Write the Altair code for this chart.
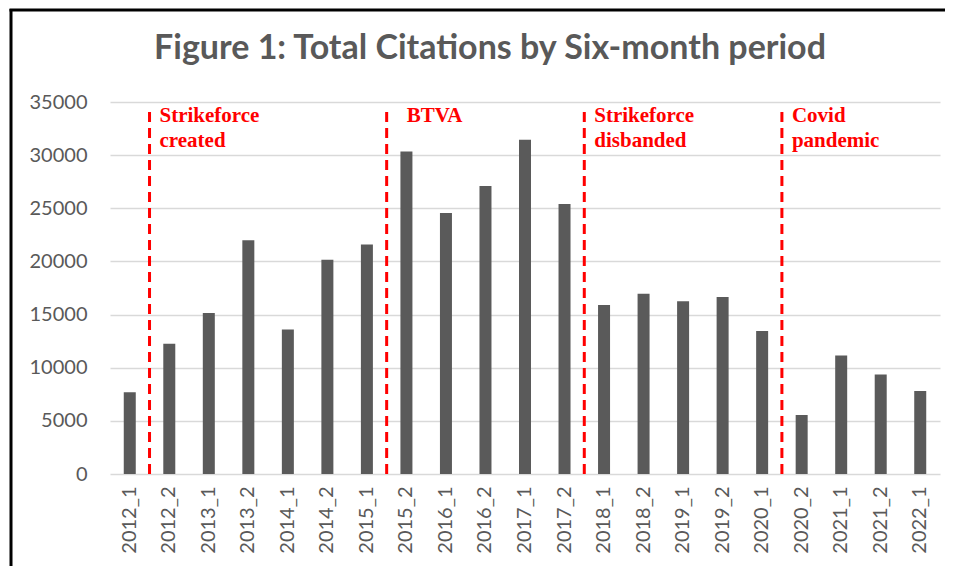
import altair as alt
import pandas as pd

periods = ["2012_1", "2012_2", "2013_1", "2013_2", "2014_1", "2014_2", "2015_1",
           "2015_2", "2016_1", "2016_2", "2017_1", "2017_2", "2018_1", "2018_2",
           "2019_1", "2019_2", "2020_1", "2020_2", "2021_1", "2021_2", "2022_1"]
citations = [7700, 12250, 15150, 22000, 13600, 20150, 21600,
             30350, 24550, 27100, 31450, 25400, 15900, 16950,
             16250, 16650, 13450, 5550, 11150, 9350, 7800]

event_periods = ["2012_2", "2018_1", "2020_2"]
event_labels = ["Strikeforce\ncreated", "Strikeforce\ndisbanded", "Covid\npandemic"]
btva_period = ["2015_2"]
btva_label = ["BTVA"]
rule_top = 34500
y_ticks = [0, 5000, 10000, 15000, 20000, 25000, 30000, 35000]

W, H = 830, 372

df = pd.DataFrame({"period": periods, "citations": citations})
ev = pd.DataFrame({"period": event_periods + btva_period,
                   "zero": [0] * 4,
                   "top": [rule_top] * 4})
ev_main = pd.DataFrame({"period": event_periods, "label": event_labels, "top": [35000] * 3})
ev_btva = pd.DataFrame({"period": btva_period, "label": btva_label, "top": [35000]})

xscale = alt.Scale(domain=periods, paddingInner=0, paddingOuter=0)
yscale = alt.Scale(domain=[0, 35000])

bars = alt.Chart(df).mark_bar(size=12, color="#5a5a5a").encode(
    x=alt.X("period:N", scale=xscale, sort=periods,
            axis=alt.Axis(title=None, labelAngle=270, labelFont="Lato", labelFontSize=20,
                          labelColor="#595959", ticks=False, domain=False, labelPadding=12)),
    y=alt.Y("citations:Q", scale=yscale,
            axis=alt.Axis(title=None, values=y_ticks, format="d", labelFont="Lato",
                          labelFontSize=20, labelColor="#595959", ticks=False, domain=False,
                          labelPadding=23, gridColor="#d9d9d9", gridWidth=1.5)),
)

rules = alt.Chart(ev).mark_rule(color="#ff0000", strokeWidth=3, strokeDash=[10, 6]).encode(
    x=alt.X("period:N", scale=xscale, bandPosition=0),
    y=alt.Y("zero:Q", scale=yscale),
    y2="top:Q",
)

txt_main = alt.Chart(ev_main).mark_text(
    color="#ff0000", font="Liberation Serif", fontWeight="bold", fontSize=21,
    align="left", baseline="top", dx=10, dy=3, lineBreak="\n", lineHeight=25
).encode(
    x=alt.X("period:N", scale=xscale, bandPosition=0),
    y=alt.Y("top:Q", scale=yscale),
    text="label:N",
)
txt_btva = alt.Chart(ev_btva).mark_text(
    color="#ff0000", font="Liberation Serif", fontWeight="bold", fontSize=21,
    align="left", baseline="top", dx=20, dy=3
).encode(
    x=alt.X("period:N", scale=xscale, bandPosition=0),
    y=alt.Y("top:Q", scale=yscale),
    text="label:N",
)

frame_df = pd.DataFrame({"k": [0]})
frame_left = alt.Chart(frame_df).mark_rule(color="black", strokeWidth=3).encode(
    x=alt.value(-99), y=alt.value(-93), y2=alt.value(H + 100))
frame_top = alt.Chart(frame_df).mark_rule(color="black", strokeWidth=3).encode(
    x=alt.value(-100.5), x2=alt.value(W + 30), y=alt.value(-92))

chart = alt.layer(bars, rules, txt_main, txt_btva, frame_left, frame_top).properties(
    width=W, height=H,
    background="white",
    title=alt.TitleParams("Figure 1: Total Citations by Six-month period",
                          font="Lato", fontSize=34, fontWeight="bold", color="#595959",
                          anchor="middle", dx=-35, offset=-58),
    autosize=alt.AutoSizeParams(type="none"),
    padding={"left": 102, "top": 94, "right": 5, "bottom": 92},
).configure_view(stroke=None)

chart.save("out.html", embed_options={"renderer": "svg", "actions": False})
